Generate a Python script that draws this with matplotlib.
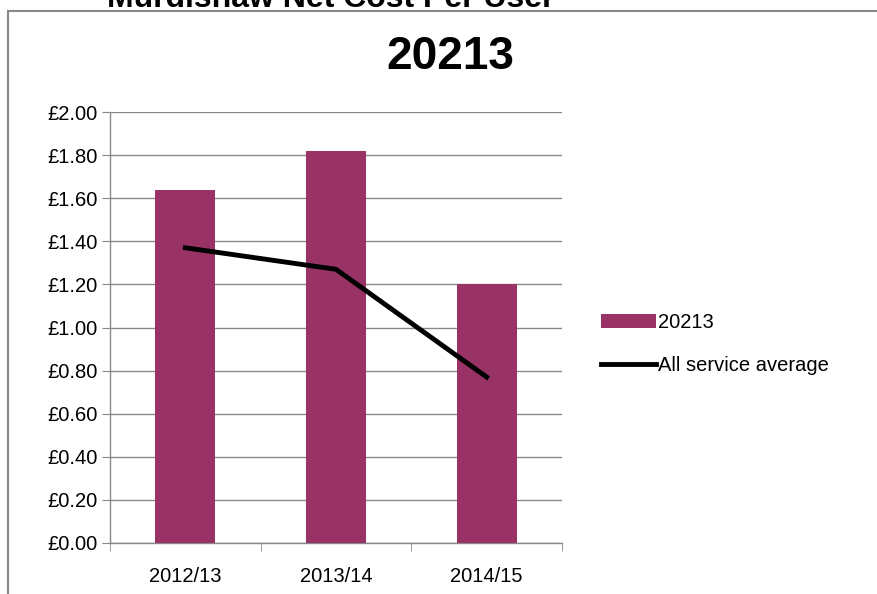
import matplotlib.pyplot as plt
from matplotlib.patches import Rectangle
import numpy as np

plt.rcParams['font.family'] = ['Liberation Sans', 'DejaVu Sans']

anos = ["2012/13", "2013/14", "2014/15"]
custo_20213 = [1.64, 1.82, 1.20]
media_servicos = [1.37, 1.27, 0.77]
ticks_y = [0.0, 0.2, 0.4, 0.6, 0.8, 1.0, 1.2, 1.4, 1.6, 1.8, 2.0]

W, H = 877, 594
fig = plt.figure(figsize=(W / 100, H / 100), dpi=100)

# moldura do gráfico
fig.patches.append(Rectangle((8 / W, -0.1), 1.2, (H - 11) / H + 0.1,
                             transform=fig.transFigure, fill=False,
                             edgecolor='#888888', linewidth=1.5))

# título de cima, cortado pela borda da imagem
fig.text(107 / W, 1 - 7 / H, "Murdishaw Net Cost Per User", fontsize=23,
         fontweight='bold', ha='left', va='baseline', color='black')

ax = fig.add_axes([110 / W, 1 - 543 / H, (562 - 110) / W, (543 - 112) / H])
x = np.arange(len(anos))
barras = ax.bar(x, custo_20213, width=0.4, color='#993366', label='20213',
                zorder=3)
linha, = ax.plot(x, media_servicos, color='black', linewidth=3.5,
                 label='All service average', zorder=4)

ax.set_xlim(-0.5, 2.5)
ax.set_ylim(0, 2.0)
ax.set_yticks(ticks_y)
ax.set_yticklabels([f"£{v:.2f}" for v in ticks_y])
ax.set_xticks(x)
ax.set_xticklabels(anos)
ax.set_xticks([-0.5, 0.5, 1.5, 2.5], minor=True)
ax.tick_params(axis='x', which='major', length=0, labelsize=14.5, pad=17)
ax.tick_params(axis='x', which='minor', length=6, color='#888888')
ax.tick_params(axis='y', length=6, color='#888888', labelsize=14.5, pad=3)

ax.grid(axis='y', color='#888888', linewidth=1, zorder=0)
for lado in ['top', 'right']:
    ax.spines[lado].set_visible(False)
for lado in ['left', 'bottom']:
    ax.spines[lado].set_color('#888888')
    ax.spines[lado].set_linewidth(1)

fig.text(450 / W, 1 - 57 / H, "20213", fontsize=33, fontweight='bold',
         ha='center', va='center')

ax.legend([barras, linha], ['20213', 'All service average'],
          loc='center left', bbox_to_anchor=(583 / W, 1 - 344 / H),
          bbox_transform=fig.transFigure, frameon=False, fontsize=14.5,
          handlelength=2.7, handletextpad=0.1, labelspacing=1.2)

fig.savefig("out.png", dpi=100)
